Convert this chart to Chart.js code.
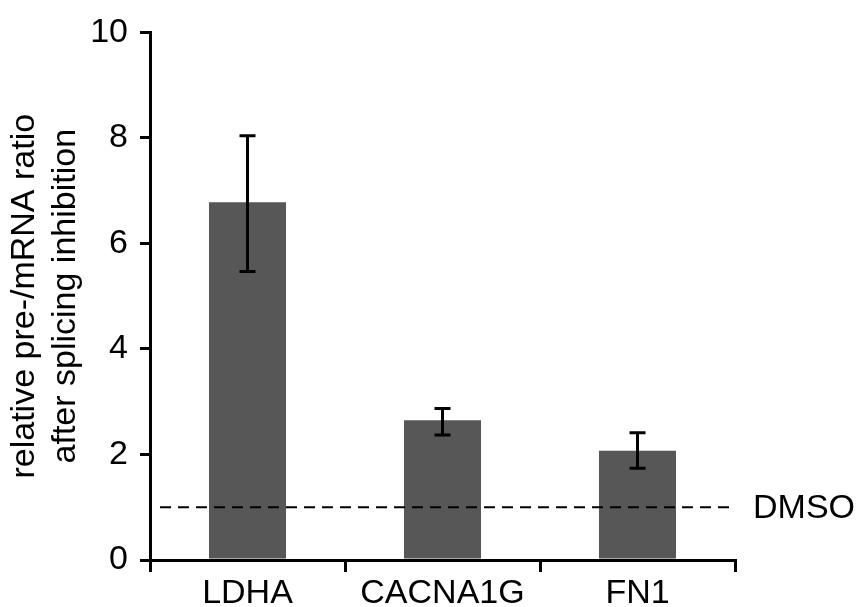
<!DOCTYPE html>
<html>
<head>
<meta charset="utf-8">
<script src="https://cdn.jsdelivr.net/npm/chart.js@4/dist/chart.umd.min.js"></script>
<style>
  html, body { margin: 0; padding: 0; background: #fff; }
  #wrap { width: 858px; height: 607px; }
</style>
</head>
<body>
<div id="wrap"><canvas id="c" width="858" height="607"></canvas></div>
<script>
// data
var genes = ['LDHA', 'CACNA1G', 'FN1'];
var ratio = [6.78, 2.65, 2.07];
var errHigh = [8.04, 2.87, 2.41];
var errLow = [5.47, 2.37, 1.74];
var dmsoLevel = 1;
var dmsoLabel = 'DMSO';
var yTitle = ['relative pre-/mRNA ratio', 'after splicing inhibition'];
var yTicks = [0, 2, 4, 6, 8, 10];

var FONT = 'Liberation Sans, Arial, sans-serif';

//误差线
var errorBars = {
  id: 'errorBars',
  afterDatasetsDraw: function(chart){
    var ctx = chart.ctx, meta = chart.getDatasetMeta(0), y = chart.scales.y;
    ctx.save();
    ctx.strokeStyle = '#000';
    ctx.lineWidth = 3;
    meta.data.forEach(function(bar, i){
      var x = bar.x, top = y.getPixelForValue(errHigh[i]), bottom = y.getPixelForValue(errLow[i]), cap = 8;
      ctx.beginPath();
      ctx.moveTo(x, top); ctx.lineTo(x, bottom);
      ctx.moveTo(x - cap, top); ctx.lineTo(x + cap, top);
      ctx.moveTo(x - cap, bottom); ctx.lineTo(x + cap, bottom);
      ctx.stroke();
    });
    ctx.restore();
  }
};

//DMSO 虚线
var dmsoLine = {
  id: 'dmsoLine',
  afterDatasetsDraw: function(chart){
    var ctx = chart.ctx, area = chart.chartArea, py = chart.scales.y.getPixelForValue(dmsoLevel);
    ctx.save();
    ctx.strokeStyle = '#000';
    ctx.lineWidth = 2;
    ctx.setLineDash([11, 7]);
    ctx.beginPath();
    ctx.moveTo(area.left + 10, py);
    ctx.lineTo(area.right, py);
    ctx.stroke();
    ctx.setLineDash([]);
    ctx.fillStyle = '#000';
    ctx.font = '34px ' + FONT;
    ctx.textBaseline = 'middle';
    ctx.textAlign = 'left';
    ctx.fillText(dmsoLabel, area.right + 18, py + 1);
    ctx.restore();
  }
};

new Chart(document.getElementById('c'), {
  type: 'bar',
  data: {
    labels: genes,
    datasets: [{
      data: ratio,
      backgroundColor: '#575757',
      borderWidth: 0,
      categoryPercentage: 1,
      barPercentage: 0.395
    }]
  },
  options: {
    responsive: false,
    animation: false,
    events: [],
    layout: { padding: { top: 24, right: 123, left: 0, bottom: 0 } },
    plugins: { legend: { display: false }, tooltip: { enabled: false } },
    scales: {
      x: {
        grid: { display: true, drawOnChartArea: false, offset: true, tickLength: 12, lineWidth: 3, color: '#000' },
        border: { display: true, width: 3, color: '#000' },
        ticks: { color: '#000', padding: 1, font: { family: FONT, size: 34 } },
        afterFit: function(s){ s.height = 47; }
      },
      y: {
        min: 0, max: 10,
        afterBuildTicks: function(s){ s.ticks = yTicks.map(function(v){ return { value: v }; }); },
        grid: { display: true, drawOnChartArea: false, tickLength: 10, lineWidth: 3, color: '#000' },
        border: { display: true, width: 3, color: '#000' },
        ticks: { color: '#000', padding: 12, font: { family: FONT, size: 34 } },
        title: {
          display: true, text: yTitle, color: '#000',
          font: { family: FONT, size: 34, lineHeight: 1.2 },
          padding: { top: 4, bottom: 0 }
        },
        afterFit: function(s){ s.width = 150; }
      }
    }
  },
  plugins: [errorBars, dmsoLine]
});
</script>
</body>
</html>
